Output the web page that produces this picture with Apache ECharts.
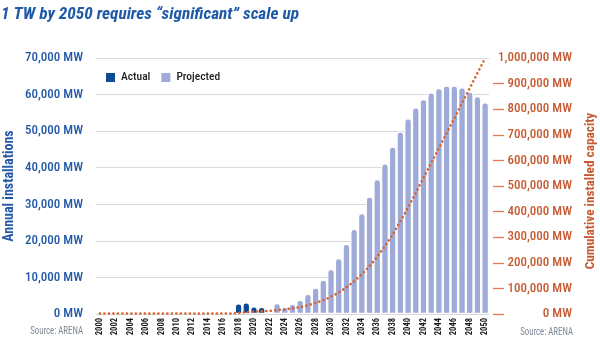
<!DOCTYPE html>
<html>
<head>
<meta charset="utf-8">
<script src="https://cdn.jsdelivr.net/npm/echarts@6/dist/echarts.min.js"></script>
<style>
html,body{margin:0;padding:0;background:#fff;}
#chart{width:600px;height:359px;}
</style>
</head>
<body>
<div id="chart"></div>
<script>
var years = ['2000','2001','2002','2003','2004','2005','2006','2007','2008','2009',
  '2010','2011','2012','2013','2014','2015','2016','2017','2018','2019',
  '2020','2021','2022','2023','2024','2025','2026','2027','2028','2029',
  '2030','2031','2032','2033','2034','2035','2036','2037','2038','2039',
  '2040','2041','2042','2043','2044','2045','2046','2047','2048','2049','2050'];

var actual = [null,null,null,null,null,null,null,null,null,null,
  null,null,null,null,null,null,null,null,2900,3200,
  2100,2000,null,null,null,null,null,null,null,null,
  null,null,null,null,null,null,null,null,null,null,
  null,null,null,null,null,null,null,null,null,null,null];

var projected = [null,null,null,null,null,null,null,null,null,null,
  null,null,null,null,null,null,null,null,null,null,
  null,null,null,3000,2000,2800,3900,5500,7200,9400,
  12300,15300,19200,23300,27600,32100,36900,41200,45800,49900,
  53500,56500,58800,60600,61800,62500,62500,62000,60800,59600,57900];

var cumulative = [2000,2000,2000,2000,2000,2000,2000,2000,2000,2000,
  2000,2000,2000,2000,2000,2000,2000,2000,4000,7000,
  9000,11000,12000,15000,18000,22000,27000,34000,43000,54000,
  67000,84000,104000,128000,155000,187000,224000,265000,310000,362000,
  416000,474000,532000,590000,648000,706000,764000,824000,882000,941000,1000000];

var leftTickLabels = ['0 MW','10,000 MW','20,000 MW','30,000 MW','40,000 MW','50,000 MW','60,000 MW','70,000 MW'];
var rightTickLabels = ['0 MW','100,000 MW','200,000 MW','300,000 MW','400,000 MW','500,000 MW',
  '600,000 MW','700,000 MW','800,000 MW','900,000 MW','1,000,000 MW'];
var rightTickValues = [0,100000,200000,300000,400000,500000,600000,700000,800000,900000];

var FONT = "'Roboto Condensed', 'DejaVu Sans Condensed', sans-serif";
var BLUE = '#2459a6';
var ORANGE = '#c65a30';

var chart = echarts.init(document.getElementById('chart'), null, {renderer: 'canvas'});
chart.setOption({
  animation: false,
  backgroundColor: '#ffffff',
  textStyle: {fontFamily: FONT},
  title: {
    text: '1 TW by 2050 requires \u201csignificant\u201d scale up',
    left: 1, top: 6, padding: 0,
    textStyle: {fontFamily: FONT, fontSize: 17.3, fontWeight: 'bold', fontStyle: 'italic', color: '#1e5aa8'}
  },
  legend: {
    left: 104, top: 71, padding: 0,
    itemWidth: 11, itemHeight: 11, itemGap: 9, icon: 'rect',
    data: ['Actual', 'Projected'],
    textStyle: {fontFamily: FONT, fontSize: 11.5, fontWeight: 500, color: '#222'}
  },
  grid: {left: 96, right: 111, top: 58, bottom: 45, containLabel: false},
  xAxis: {
    type: 'category', data: years, boundaryGap: true,
    axisLine: {show: false}, axisTick: {show: false},
    axisLabel: {interval: 1, rotate: 90, margin: 4, fontSize: 8.5, fontWeight: 'bold', color: '#1a1a1a', fontFamily: FONT}
  },
  yAxis: [{
    type: 'value', position: 'left', min: 0, max: 70000, interval: 10000,
    axisLine: {show: false}, axisTick: {show: false},
    splitLine: {show: true, lineStyle: {color: '#d9d9d9', width: 1}},
    axisLabel: {
      margin: 13, fontSize: 13, fontWeight: 500, color: BLUE, fontFamily: FONT, padding: [0, 0, 6, 0],
      formatter: function (v) { return leftTickLabels[Math.round(v / 10000)]; }
    }
  }, {
    type: 'value', position: 'right', offset: 4, min: 0, max: 1000000, interval: 100000,
    axisLine: {show: false},
    axisTick: {show: true, length: 11, customValues: rightTickValues, lineStyle: {color: '#e07a4f', width: 1.3}},
    splitLine: {show: false},
    axisLabel: {
      margin: 79, align: 'right', fontSize: 13, fontWeight: 500, color: ORANGE, fontFamily: FONT, padding: [0, 0, 2, 0],
      formatter: function (v) { return rightTickLabels[Math.round(v / 100000)]; }
    }
  }],
  series: [{
    name: 'Actual', type: 'bar', yAxisIndex: 0, data: actual,
    barWidth: 7.7, barGap: '-100%', barCategoryGap: 0,
    itemStyle: {color: '#0e4a98', borderColor: '#ffffff', borderWidth: 1.2, borderRadius: [3, 3, 0, 0]},
    z: 2
  }, {
    name: 'Projected', type: 'bar', yAxisIndex: 0, data: projected,
    barWidth: 7.7, barGap: '-100%', barCategoryGap: 0,
    itemStyle: {color: '#9eaad8', borderColor: '#ffffff', borderWidth: 1.2, borderRadius: [3, 3, 0, 0]},
    z: 2
  }, {
    name: 'Cumulative', type: 'line', yAxisIndex: 1, data: cumulative,
    showSymbol: false, symbol: 'none', clip: false, z: 4,
    lineStyle: {color: '#d8612e', width: 2.6, type: [0.1, 4.4], cap: 'round'}
  }],
  graphic: [{
    type: 'text', x: 9, y: 186, rotation: Math.PI / 2,
    style: {text: 'Annual installations', font: "bold 14px " + FONT, fill: BLUE, textAlign: 'center', textVerticalAlign: 'middle'}
  }, {
    type: 'text', x: 591, y: 191, rotation: Math.PI / 2,
    style: {text: 'Cumulative installed capacity', font: "bold 13.3px " + FONT, fill: ORANGE, textAlign: 'center', textVerticalAlign: 'middle'}
  }, {
    type: 'text', x: 83, y: 331, scaleX: 0.8,
    style: {text: 'Source: ARENA', font: "11px " + FONT, fill: '#7d8894', textAlign: 'right', textVerticalAlign: 'middle'}
  }, {
    type: 'text', x: 573, y: 332, scaleX: 0.8,
    style: {text: 'Source: ARENA', font: "11px " + FONT, fill: '#7d8894', textAlign: 'right', textVerticalAlign: 'middle'}
  }]
});
</script>
</body>
</html>
